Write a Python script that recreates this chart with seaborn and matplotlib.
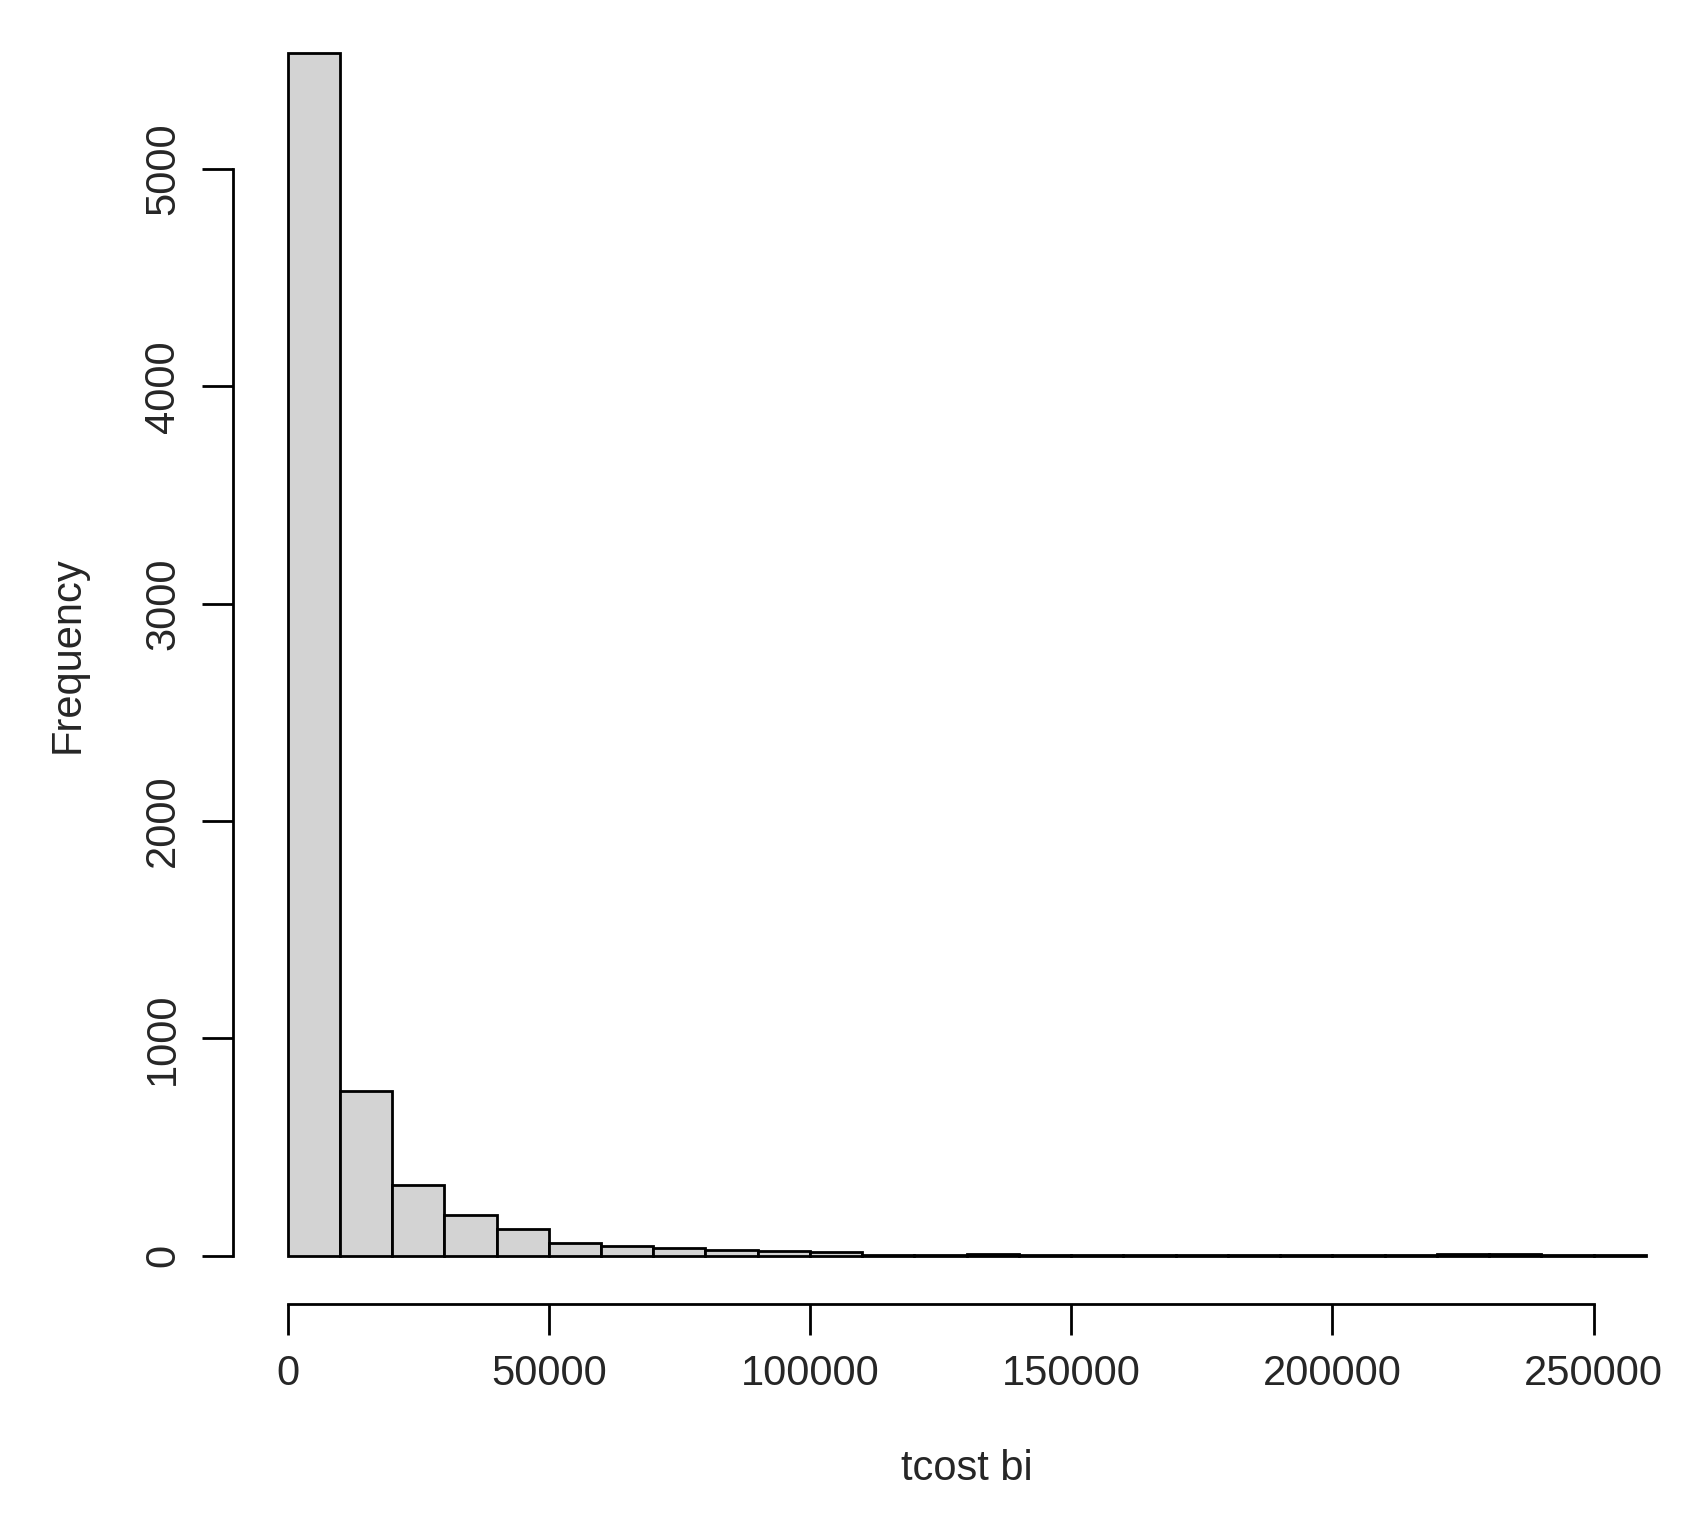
import matplotlib
matplotlib.use("Agg")
import matplotlib.pyplot as plt
import seaborn as sns
import numpy as np
import pandas as pd

bin_starts = list(range(0, 260000, 10000))
counts = [5535, 758, 327, 188, 124, 60, 45, 35, 28, 22, 15, 5, 5, 8, 5, 4, 3, 4, 3, 2, 3, 3, 6, 8, 5, 3]
xticks = [0, 50000, 100000, 150000, 200000, 250000]
yticks = [0, 1000, 2000, 3000, 4000, 5000]

sns.set_style("white")
plt.rcParams['font.family'] = ['Liberation Sans', 'DejaVu Sans']

df = pd.DataFrame({"mid": [b + 5000 for b in bin_starts], "n": counts})

fig = plt.figure(figsize=(17.02, 15.32), dpi=100)
ax = fig.add_axes([0.137, 0.149, 0.862, 0.848])
sns.histplot(data=df, x="mid", weights="n",
             bins=list(np.arange(0, 260001, 10000)), color="#d3d3d3",
             edgecolor="black", linewidth=2, alpha=1, ax=ax)
ax.set_xlim(-10400, 270400)
ax.set_ylim(-221, 5756)
for s in ["top", "right"]:
    ax.spines[s].set_visible(False)
ax.spines["left"].set_bounds(0, 5000)
ax.spines["bottom"].set_bounds(0, 250000)
for s in ["left", "bottom"]:
    ax.spines[s].set_linewidth(2)
    ax.spines[s].set_color("black")
ax.set_xticks(xticks)
ax.set_xticklabels([str(t) for t in xticks])
ax.set_yticks(yticks)
ax.set_yticklabels([str(t) for t in yticks], rotation=90, va="center")
ax.tick_params(axis="both", length=22, width=2, labelsize=30, pad=14, color="black", direction="out")
ax.tick_params(axis="both", bottom=True, left=True)
ax.set_xlabel("tcost bi", fontsize=30, labelpad=40)
ax.set_ylabel("Frequency", fontsize=30, labelpad=40)
fig.savefig("out.png", dpi=100)
